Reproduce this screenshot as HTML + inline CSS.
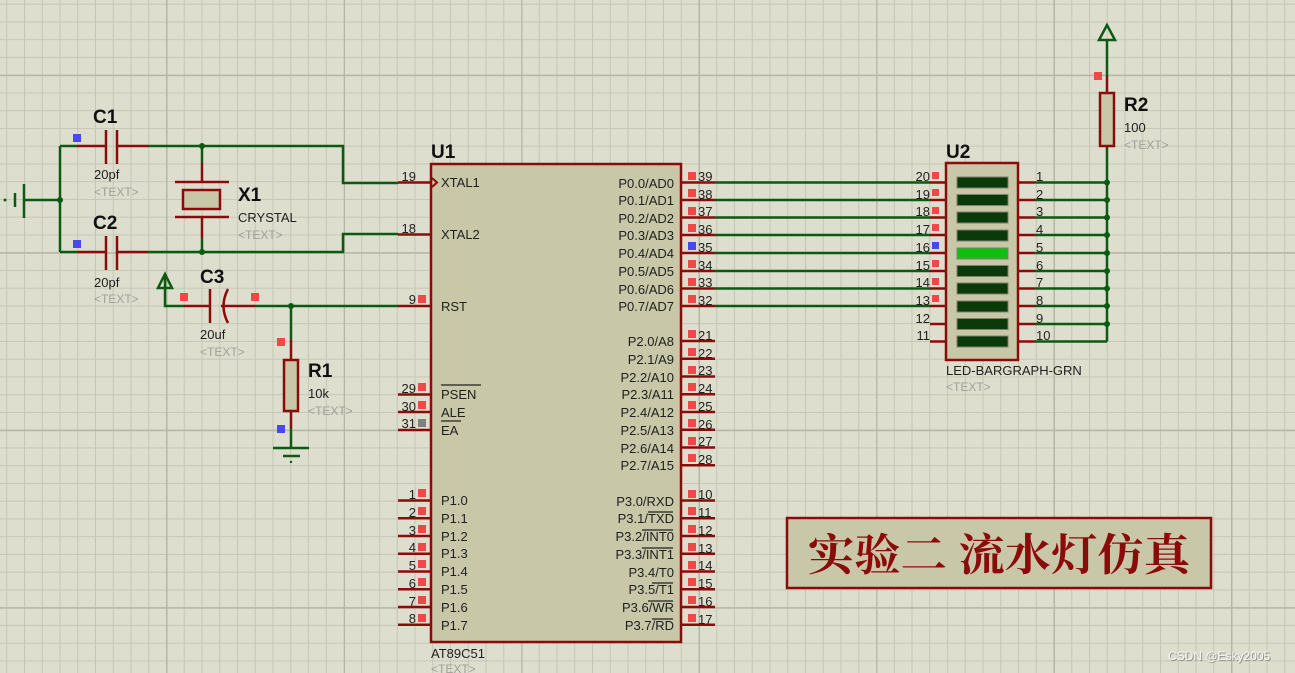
<!DOCTYPE html>
<html><head><meta charset="utf-8"><style>
html,body{margin:0;padding:0;background:#dedecf;}
svg{display:block;}
text{font-family:"Liberation Sans",sans-serif;}
.n{font-size:13px;fill:#202020;}
.l{font-size:13px;fill:#202020;}
.g{font-size:12px;fill:#a0a098;}
.b{font-size:19px;font-weight:bold;fill:#101010;}
.r{stroke:#8b0a0a;stroke-width:2.5;fill:none;}
.w{stroke:#0a5a12;stroke-width:2.5;fill:none;}
.sq{fill:#f04848;}
.bl{fill:#4848f0;}
</style></head><body>
<svg width="1295" height="673" viewBox="0 0 1295 673" xmlns="http://www.w3.org/2000/svg">
<defs>
<pattern id="mi" x="6.25" y="3.7" width="17.75" height="17.75" patternUnits="userSpaceOnUse">
<path d="M0 0H17.75M0 0V17.75" stroke="#c6c6b6" stroke-width="2" fill="none"/></pattern>
<pattern id="ma" x="166" y="74.7" width="177.5" height="177.5" patternUnits="userSpaceOnUse">
<path d="M0 0H177.5M0 0V177.5" stroke="#b6b6a4" stroke-width="3" fill="none"/></pattern>
</defs>
<rect width="1295" height="673" fill="#dedecf"/>
<rect width="1295" height="673" fill="url(#mi)"/>
<rect width="1295" height="673" fill="url(#ma)"/>

<circle cx="5" cy="200" r="1.5" fill="#0a5a12"/>
<path class="w" d="M15 193V207M24 184V218M24 200H60M60 146V252M60 146H77M60 252H77"/>
<circle cx="60" cy="200" r="3" fill="#0a5a12"/>
<path class="r" d="M77 146H106M106 130V164M117 130V164M117 146H148"/>
<path class="r" d="M77 252H106M106 236V270M117 236V270M117 252H148"/>
<path class="w" d="M148 146H343V183H398M148 252H343V234H398"/>
<rect class="bl" x="73" y="134" width="8" height="8"/>
<rect class="bl" x="73" y="240" width="8" height="8"/>
<path class="w" d="M202 146V163M202 238V252"/>
<circle cx="202" cy="146" r="3" fill="#0a5a12"/>
<circle cx="202" cy="252" r="3" fill="#0a5a12"/>
<path class="r" d="M202 163V182M175 182H229M175 217H229M202 217V238"/>
<rect x="183" y="190" width="37" height="19" fill="#c8c8a8" stroke="#8b0a0a" stroke-width="2.5"/>
<path class="w" d="M165 274V306H184"/>
<path d="M158 288H172L165 274Z" fill="none" stroke="#0a5a12" stroke-width="2.5"/>
<path class="r" d="M184 306H210M210 289V323M228 289Q219 306 228 323M221 306H255"/>
<path class="w" d="M255 306H398M291 306V340M291 428V448M273 448H309M283 456H300"/>
<circle cx="291" cy="462" r="1.2" fill="#0a5a12"/>
<circle cx="291" cy="306" r="3" fill="#0a5a12"/>
<rect class="sq" x="180" y="293" width="8" height="8"/>
<rect class="sq" x="251" y="293" width="8" height="8"/>
<path class="r" d="M291 340V360M291 411V428"/>
<rect x="284" y="360" width="14" height="51" fill="#c8c8a8" stroke="#8b0a0a" stroke-width="2.5"/>
<rect class="sq" x="277" y="338" width="8" height="8"/>
<rect class="bl" x="277" y="425" width="8" height="8"/>

<text class="b" x="93" y="123">C1</text>
<text class="l" x="94" y="179">20pf</text>
<text class="g" x="94" y="196">&lt;TEXT&gt;</text>
<text class="b" x="93" y="229">C2</text>
<text class="l" x="94" y="287">20pf</text>
<text class="g" x="94" y="303">&lt;TEXT&gt;</text>
<text class="b" x="238" y="201">X1</text>
<text class="l" x="238" y="222">CRYSTAL</text>
<text class="g" x="238" y="239">&lt;TEXT&gt;</text>
<text class="b" x="200" y="283">C3</text>
<text class="l" x="200" y="339">20uf</text>
<text class="g" x="200" y="356">&lt;TEXT&gt;</text>
<text class="b" x="308" y="377">R1</text>
<text class="l" x="308" y="398">10k</text>
<text class="g" x="308" y="415">&lt;TEXT&gt;</text>

<rect x="431" y="164" width="250" height="478" fill="#c8c8a8" stroke="#8b0a0a" stroke-width="2.5"/>
<text class="b" x="431" y="158">U1</text>
<text class="l" x="431" y="658">AT89C51</text>
<text class="g" x="431" y="673">&lt;TEXT&gt;</text>
<path class="r" d="M398 182.5H431M398 234.5H431M398 306H431M398 394.5H431M398 412H431M398 430H431"/>
<path class="r" d="M398 500.5H431M398 518.25H431M398 536H431M398 553.75H431M398 571.5H431M398 589.25H431M398 607H431M398 624.75H431"/>
<path d="M432 178L437 182.5L432 187" fill="none" stroke="#8b0a0a" stroke-width="2"/>
<g class="n" text-anchor="end">
<text x="416" y="181">19</text><text x="416" y="233">18</text><text x="416" y="304">9</text>
<text x="416" y="393">29</text><text x="416" y="411">30</text><text x="416" y="428">31</text>
<text x="416" y="499">1</text><text x="416" y="517">2</text><text x="416" y="535">3</text><text x="416" y="552">4</text>
<text x="416" y="570">5</text><text x="416" y="588">6</text><text x="416" y="606">7</text><text x="416" y="623">8</text>
</g>
<g class="sq">
<rect x="418" y="295" width="8" height="8"/><rect x="418" y="383" width="8" height="8"/><rect x="418" y="401" width="8" height="8"/>
<rect x="418" y="489" width="8" height="8"/><rect x="418" y="507" width="8" height="8"/><rect x="418" y="525" width="8" height="8"/><rect x="418" y="543" width="8" height="8"/>
<rect x="418" y="560" width="8" height="8"/><rect x="418" y="578" width="8" height="8"/><rect x="418" y="596" width="8" height="8"/><rect x="418" y="614" width="8" height="8"/>
</g>
<rect x="418" y="419" width="8" height="8" fill="#808080"/>
<g class="l">
<text x="441" y="187">XTAL1</text><text x="441" y="239">XTAL2</text><text x="441" y="311">RST</text>
<text x="441" y="399">PSEN</text><text x="441" y="417">ALE</text><text x="441" y="435">EA</text>
<text x="441" y="505">P1.0</text><text x="441" y="523">P1.1</text><text x="441" y="541">P1.2</text><text x="441" y="558">P1.3</text>
<text x="441" y="576">P1.4</text><text x="441" y="594">P1.5</text><text x="441" y="612">P1.6</text><text x="441" y="630">P1.7</text>
</g>
<path d="M441 385H481M441 421H461" stroke="#202020" stroke-width="1.2"/>
<g class="l" text-anchor="end">
<text x="674" y="188">P0.0/AD0</text><text x="674" y="205">P0.1/AD1</text><text x="674" y="223">P0.2/AD2</text><text x="674" y="240">P0.3/AD3</text>
<text x="674" y="258">P0.4/AD4</text><text x="674" y="276">P0.5/AD5</text><text x="674" y="294">P0.6/AD6</text><text x="674" y="311">P0.7/AD7</text>
<text x="674" y="346">P2.0/A8</text><text x="674" y="364">P2.1/A9</text><text x="674" y="382">P2.2/A10</text><text x="674" y="399">P2.3/A11</text>
<text x="674" y="417">P2.4/A12</text><text x="674" y="435">P2.5/A13</text><text x="674" y="453">P2.6/A14</text><text x="674" y="470">P2.7/A15</text>
<text x="674" y="506">P3.0/RXD</text><text x="674" y="523">P3.1/TXD</text><text x="674" y="541">P3.2/INT0</text><text x="674" y="559">P3.3/INT1</text>
<text x="674" y="577">P3.4/T0</text><text x="674" y="594">P3.5/T1</text><text x="674" y="612">P3.6/WR</text><text x="674" y="630">P3.7/RD</text>
</g>
<path d="M648 512H673M642 530H673M642 548H673M652 583H673M648 601H673M652 619H673" stroke="#202020" stroke-width="1.2"/>
<path class="r" d="M681 182.5H715M681 200H715M681 217.5H715M681 235H715M681 253H715M681 271H715M681 288.5H715M681 306H715"/>
<path class="r" d="M681 341H715M681 358.75H715M681 376.5H715M681 394.25H715M681 412H715M681 429.75H715M681 447.5H715M681 465.25H715"/>
<path class="r" d="M681 500.5H715M681 518.25H715M681 536H715M681 553.75H715M681 571.5H715M681 589.25H715M681 607H715M681 624.75H715"/>
<g class="sq">
<rect x="688" y="172" width="8" height="8"/><rect x="688" y="189" width="8" height="8"/><rect x="688" y="207" width="8" height="8"/><rect x="688" y="224" width="8" height="8"/>
<rect x="688" y="260" width="8" height="8"/><rect x="688" y="278" width="8" height="8"/><rect x="688" y="295" width="8" height="8"/>
<rect x="688" y="330" width="8" height="8"/><rect x="688" y="348" width="8" height="8"/><rect x="688" y="366" width="8" height="8"/><rect x="688" y="383" width="8" height="8"/>
<rect x="688" y="401" width="8" height="8"/><rect x="688" y="419" width="8" height="8"/><rect x="688" y="437" width="8" height="8"/><rect x="688" y="454" width="8" height="8"/>
<rect x="688" y="490" width="8" height="8"/><rect x="688" y="507" width="8" height="8"/><rect x="688" y="525" width="8" height="8"/><rect x="688" y="543" width="8" height="8"/>
<rect x="688" y="561" width="8" height="8"/><rect x="688" y="578" width="8" height="8"/><rect x="688" y="596" width="8" height="8"/><rect x="688" y="614" width="8" height="8"/>
</g>
<rect class="bl" x="688" y="242" width="8" height="8"/>
<g class="n">
<text x="698" y="181">39</text><text x="698" y="199">38</text><text x="698" y="216">37</text><text x="698" y="234">36</text>
<text x="698" y="252">35</text><text x="698" y="270">34</text><text x="698" y="287">33</text><text x="698" y="305">32</text>
<text x="698" y="340">21</text><text x="698" y="358">22</text><text x="698" y="375">23</text><text x="698" y="393">24</text>
<text x="698" y="411">25</text><text x="698" y="429">26</text><text x="698" y="446">27</text><text x="698" y="464">28</text>
<text x="698" y="499">10</text><text x="698" y="517">11</text><text x="698" y="535">12</text><text x="698" y="553">13</text>
<text x="698" y="570">14</text><text x="698" y="588">15</text><text x="698" y="606">16</text><text x="698" y="624">17</text>
</g>

<path class="w" d="M715 182.5H930M715 200H930M715 217.5H930M715 235H930M715 253H930M715 271H930M715 288.5H930M715 306H930"/>
<path class="r" d="M930 182.5H946M930 200H946M930 217.5H946M930 235H946M930 253H946M930 271H946M930 288.5H946M930 306H946M930 324H946M930 341.5H946"/>
<path class="r" d="M1018 182.5H1035M1018 200H1035M1018 217.5H1035M1018 235H1035M1018 253H1035M1018 271H1035M1018 288.5H1035M1018 306H1035M1018 324H1035M1018 341.5H1035"/>
<path class="w" d="M1035 182.5H1107M1035 200H1107M1035 217.5H1107M1035 235H1107M1035 253H1107M1035 271H1107M1035 288.5H1107M1035 306H1107M1035 324H1107M1035 341.5H1107M1107 148V341.5"/>
<g fill="#0a5a12">
<circle cx="1107" cy="182.5" r="3"/><circle cx="1107" cy="200" r="3"/><circle cx="1107" cy="217.5" r="3"/><circle cx="1107" cy="235" r="3"/><circle cx="1107" cy="253" r="3"/>
<circle cx="1107" cy="271" r="3"/><circle cx="1107" cy="288.5" r="3"/><circle cx="1107" cy="306" r="3"/><circle cx="1107" cy="324" r="3"/>
</g>
<rect x="946" y="163" width="72" height="197" fill="#c8c8a8" stroke="#8b0a0a" stroke-width="2.5"/>
<g fill="#0a3a0a" stroke="#808070" stroke-width="1">
<rect x="957" y="177" width="51" height="11"/><rect x="957" y="194.5" width="51" height="11"/><rect x="957" y="212" width="51" height="11"/><rect x="957" y="230" width="51" height="11"/>
<rect x="957" y="265.5" width="51" height="11"/><rect x="957" y="283" width="51" height="11"/><rect x="957" y="301" width="51" height="11"/><rect x="957" y="318.5" width="51" height="11"/><rect x="957" y="336" width="51" height="11"/>
</g>
<rect x="957" y="248" width="51" height="11" fill="#10c010" stroke="#808070" stroke-width="1"/>
<g class="n" text-anchor="end">
<text x="930" y="181">20</text><text x="930" y="199">19</text><text x="930" y="216">18</text><text x="930" y="234">17</text><text x="930" y="252">16</text>
<text x="930" y="270">15</text><text x="930" y="287">14</text><text x="930" y="305">13</text><text x="930" y="323">12</text><text x="930" y="340">11</text>
</g>
<g class="sq">
<rect x="932" y="172" width="7" height="7"/><rect x="932" y="189" width="7" height="7"/><rect x="932" y="207" width="7" height="7"/><rect x="932" y="224" width="7" height="7"/>
<rect x="932" y="260" width="7" height="7"/><rect x="932" y="278" width="7" height="7"/><rect x="932" y="295" width="7" height="7"/>
</g>
<rect class="bl" x="932" y="242" width="7" height="7"/>
<g class="n">
<text x="1036" y="181">1</text><text x="1036" y="199">2</text><text x="1036" y="216">3</text><text x="1036" y="234">4</text><text x="1036" y="252">5</text>
<text x="1036" y="270">6</text><text x="1036" y="287">7</text><text x="1036" y="305">8</text><text x="1036" y="323">9</text><text x="1036" y="340">10</text>
</g>
<text class="b" x="946" y="158">U2</text>
<text class="l" x="946" y="375">LED-BARGRAPH-GRN</text>
<text class="g" x="946" y="391">&lt;TEXT&gt;</text>

<path class="w" d="M1107 40V76"/>
<path d="M1099 40H1115L1107 25Z" fill="none" stroke="#0a5a12" stroke-width="2.5"/>
<path class="r" d="M1107 76V93M1107 146V148"/>
<rect x="1100" y="93" width="14" height="53" fill="#c8c8a8" stroke="#8b0a0a" stroke-width="2.5"/>
<rect class="sq" x="1094" y="72" width="8" height="8"/>
<text class="b" x="1124" y="111">R2</text>
<text class="l" x="1124" y="132">100</text>
<text class="g" x="1124" y="149">&lt;TEXT&gt;</text>

<rect x="787" y="518" width="424" height="70" fill="#c8c8a8" stroke="#8b0a0a" stroke-width="2.5"/>
<text x="808" y="570" textLength="382" lengthAdjust="spacingAndGlyphs" style="font-family:'Liberation Serif','Noto Serif CJK SC',serif;font-size:44px;font-weight:bold;fill:#8b0a0a;">实验二 流水灯仿真</text>

<text x="1169" y="661" style="font-size:12px;fill:#909088;">CSDN @Esky2005</text>
<text x="1168" y="660" style="font-size:12px;fill:#f8f8f4;">CSDN @Esky2005</text>
</svg>
</body></html>
